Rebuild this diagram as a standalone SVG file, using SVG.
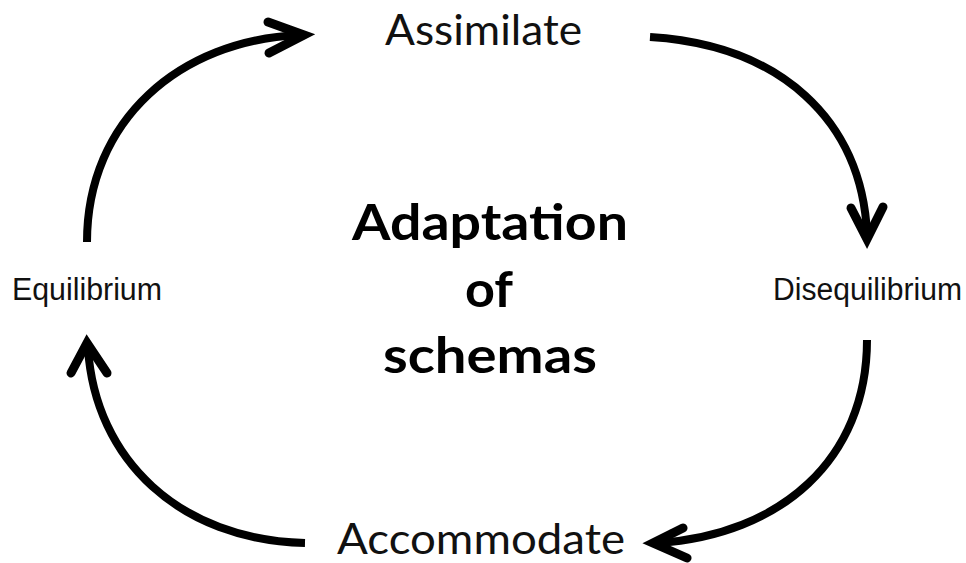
<svg xmlns="http://www.w3.org/2000/svg" width="966" height="563" viewBox="0 0 966 563">
<style>
.arc{fill:none;stroke:#000;stroke-width:8;stroke-linecap:butt}
.head{fill:none;stroke:#000;stroke-width:9;stroke-linecap:round;stroke-linejoin:miter}
.lbl{font-family:Lato,"Open Sans",sans-serif;font-size:42px;fill:#111}
.sm{font-family:"Liberation Sans",Arial,sans-serif;font-size:31px;fill:#111}
.ctr{font-family:Lato,"Open Sans",sans-serif;font-weight:bold;font-size:50px;fill:#000;text-anchor:middle}
</style>
<rect width="966" height="563" fill="#fff"/>
<g id="connectors">
<path class="arc" d="M87,242 C87,120 180,40 300,35"/>
<polyline class="head" points="268,22 304,35 269,53"/>
<path class="arc" d="M650,37 C780,45 862,120 867,234"/>
<polyline class="head" points="851,208 867,239 883,207"/>
<path class="arc" d="M867,340 C867,460 780,535 658,543"/>
<polyline class="head" points="683,528 653,543 687,558"/>
<path class="arc" d="M305,543 C180,540 95,460 88,348"/>
<polyline class="head" points="71,373 87,343 107,373"/>
</g>
<g id="assimilate"><text class="lbl" x="385" y="45" textLength="197" lengthAdjust="spacingAndGlyphs">Assimilate</text></g>
<g id="disequilibrium"><text class="sm" x="773" y="300" textLength="189" lengthAdjust="spacingAndGlyphs">Disequilibrium</text></g>
<g id="accommodate"><text class="lbl" x="337" y="554" textLength="288" lengthAdjust="spacingAndGlyphs">Accommodate</text></g>
<g id="equilibrium"><text class="sm" x="12" y="300" textLength="150" lengthAdjust="spacingAndGlyphs">Equilibrium</text></g>
<g id="center">
<text class="ctr" x="490" y="240" textLength="276" lengthAdjust="spacingAndGlyphs">Adaptation</text>
<text class="ctr" x="489" y="307" textLength="48" lengthAdjust="spacingAndGlyphs">of</text>
<text class="ctr" x="490" y="373" textLength="214" lengthAdjust="spacingAndGlyphs">schemas</text>
</g>
</svg>
